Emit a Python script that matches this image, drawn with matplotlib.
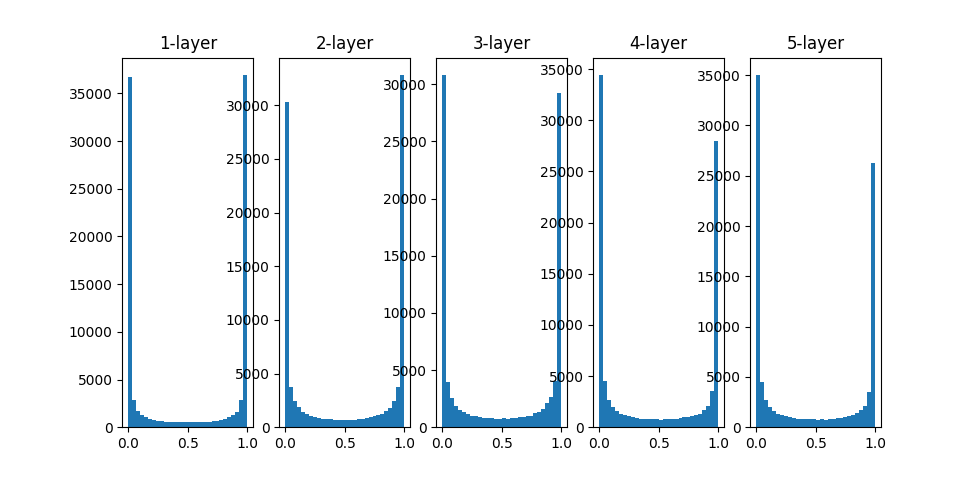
import numpy as np
import matplotlib.pyplot as plt

# counts per bin (30 bins over 0..1)
layer1 = [36700, 2830, 1700, 1330, 1090, 870, 800, 670, 600, 560,
          540, 520, 510, 510, 500, 500, 510, 510, 520, 540,
          560, 600, 670, 770, 870, 1090, 1330, 1640, 2830, 36900]
layer2 = [30300, 3710, 2410, 1860, 1390, 1270, 1050, 930, 870, 770,
          740, 720, 710, 700, 700, 700, 700, 710, 740, 770,
          900, 930, 1050, 1180, 1270, 1490, 1800, 2410, 3710, 32800]
layer3 = [30800, 3950, 2570, 1840, 1490, 1320, 1140, 1020, 940, 880,
          830, 800, 790, 760, 760, 820, 760, 800, 810, 850,
          900, 950, 1020, 1230, 1370, 1580, 2080, 2630, 4000, 29200]
layer4 = [34400, 4520, 2650, 1970, 1570, 1310, 1180, 1050, 980, 890,
          850, 790, 790, 790, 790, 720, 790, 790, 800, 830,
          890, 950, 1000, 1100, 1180, 1310, 1670, 2060, 3500, 28000]
layer5 = [35000, 4500, 2700, 2000, 1600, 1330, 1200, 1070, 970, 870,
          800, 800, 800, 800, 800, 720, 800, 740, 800, 820,
          870, 920, 970, 1070, 1200, 1400, 1700, 2100, 3500, 26300]
activations = [layer1, layer2, layer3, layer4, layer5]

edges = np.linspace(0, 1, 31)
centers = (edges[:-1] + edges[1:]) / 2

fig = plt.figure(figsize=(9.79, 4.8), dpi=100)
for i, a in enumerate(activations):
    plt.subplot(1, len(activations), i + 1)
    plt.title(str(i + 1) + "-layer")
    plt.hist(centers, bins=30, range=(0, 1), weights=a)

plt.savefig("out.png")
